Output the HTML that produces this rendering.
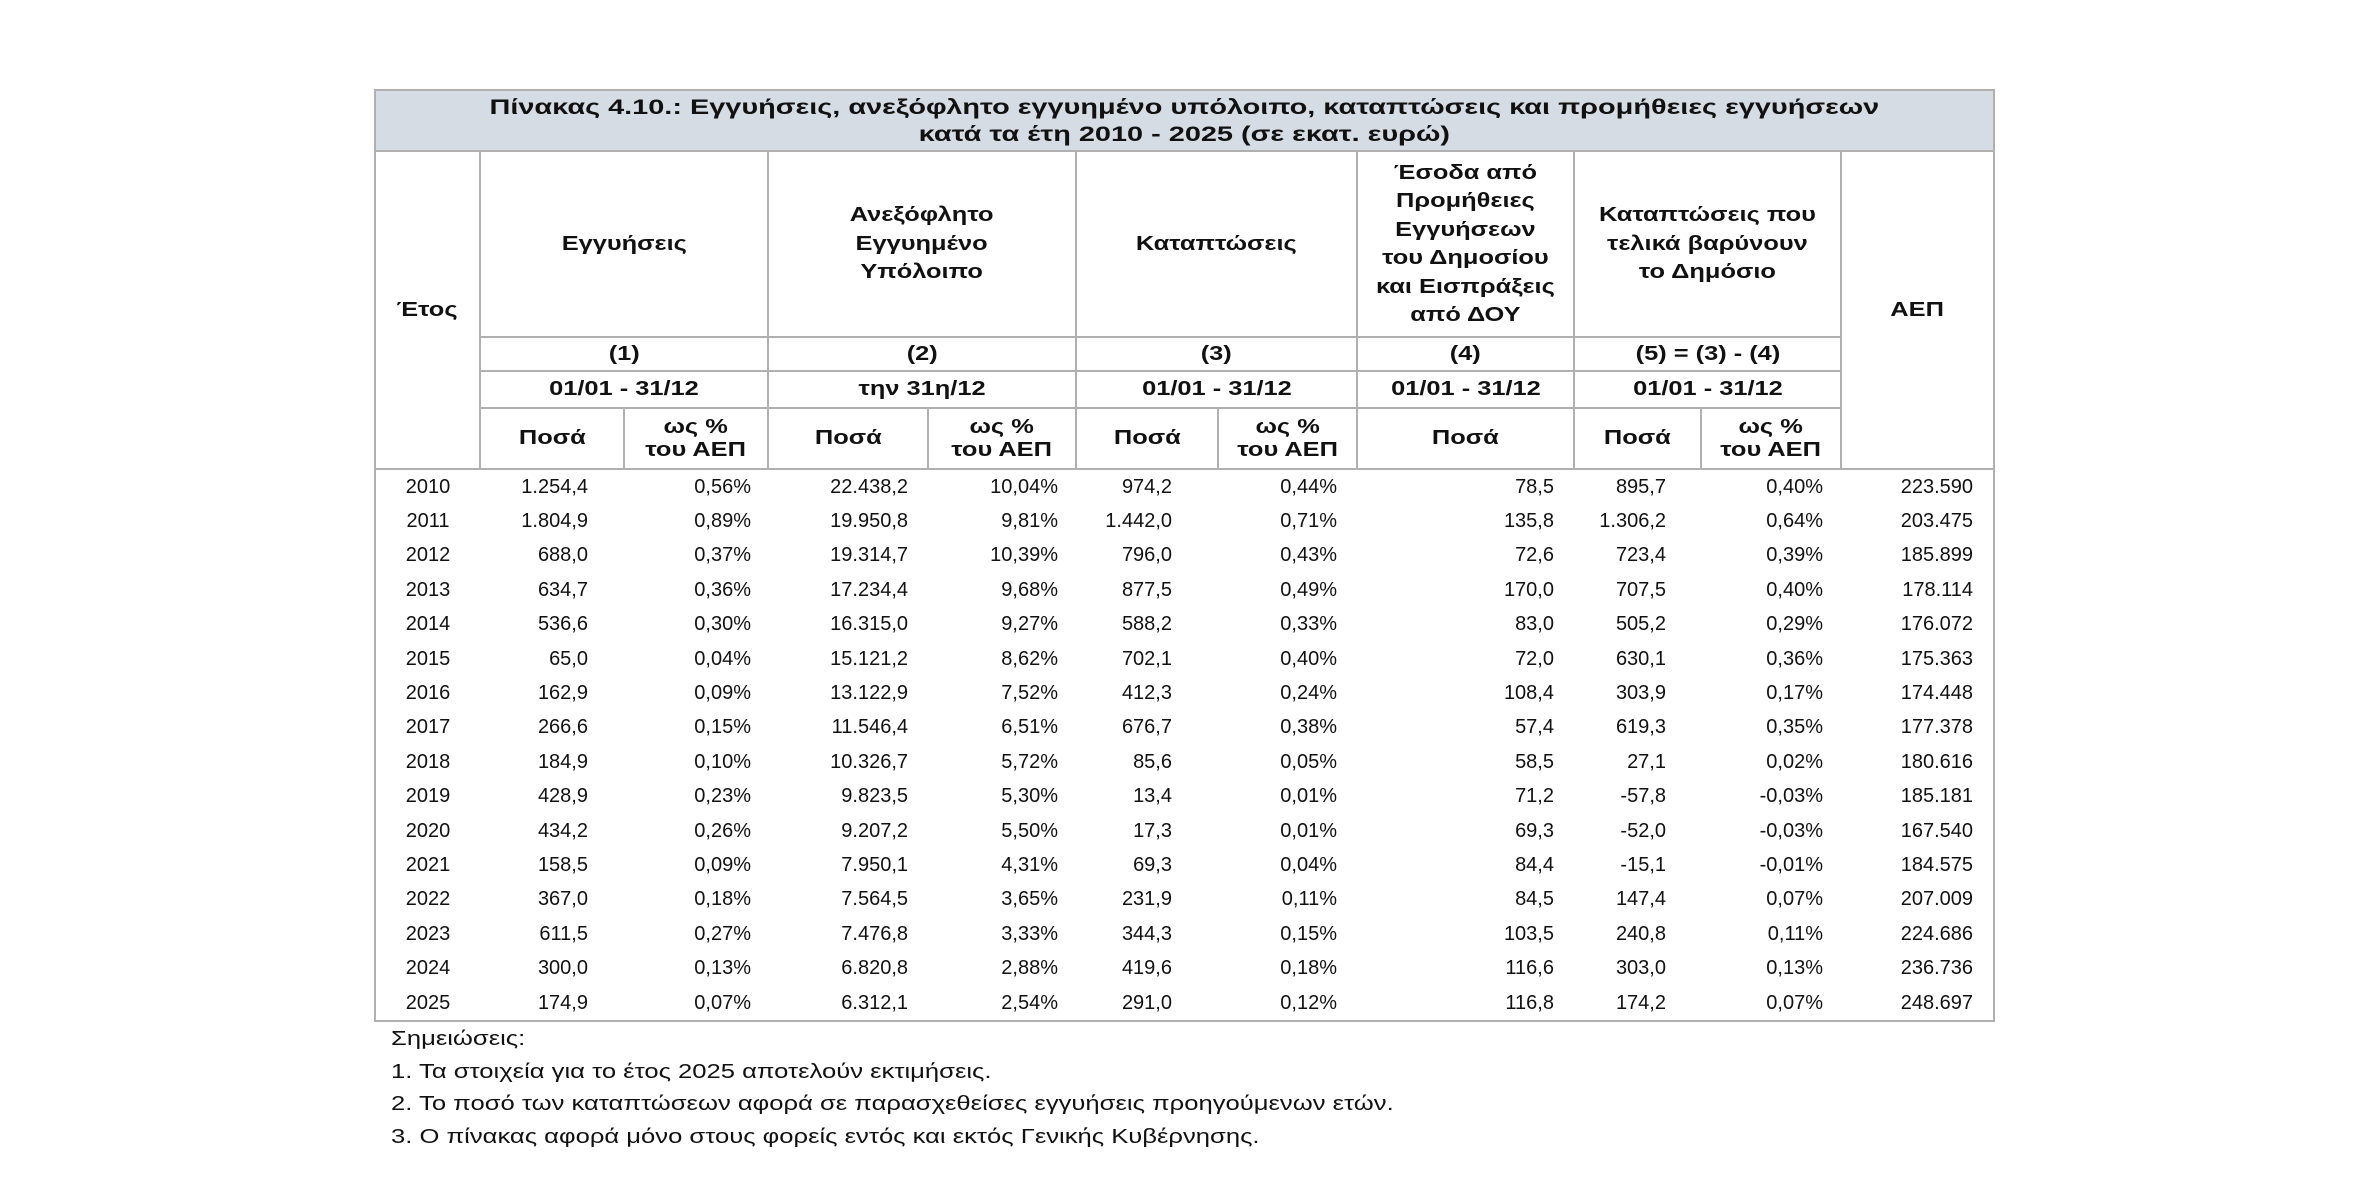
<!DOCTYPE html>
<html><head><meta charset="utf-8"><style>
html,body{margin:0;padding:0;background:#fff;}
body{width:2367px;height:1184px;position:relative;overflow:hidden;font-family:"Liberation Sans","DejaVu Sans",sans-serif;color:#111;}
table{position:absolute;left:374px;top:89px;border-collapse:collapse;table-layout:fixed;width:1619px;}
td{padding:0;font-size:20px;white-space:nowrap;overflow:hidden;}
.t td{border:2px solid #b0b0b0;}
.title{background:#d6dce4;text-align:center;font-weight:bold;font-size:21px;line-height:27px;height:59px;}
.title span{display:inline-block;transform:scaleX(1.375);}
.h{font-weight:bold;text-align:center;font-size:20px;line-height:28.5px;white-space:normal;}
.h span{display:inline-block;transform:scaleX(1.27);}
tr.d td{height:34.4px;border:none;text-align:right;}
tr.d td:first-child{text-align:center;border-left:2px solid #b0b0b0;}
tr.d td:last-child{border-right:2px solid #b0b0b0;}
tr.last td{border-bottom:2px solid #b0b0b0 !important;}
.c2{padding-right:36px!important}.c3{padding-right:17px!important}.c4{padding-right:20px!important}.c5{padding-right:18px!important}.c6{padding-right:46px!important}.c7{padding-right:20px!important}.c8{padding-right:20px!important}.c9{padding-right:35px!important}.c10{padding-right:18px!important}.c11{padding-right:20px!important}
.notes{position:absolute;left:391px;font-size:20px;transform:scaleX(1.28);transform-origin:0 0;white-space:nowrap;}
</style></head><body>
<table class="t">
<colgroup><col style="width:105px"><col style="width:144px"><col style="width:144px"><col style="width:160px"><col style="width:148px"><col style="width:142px"><col style="width:139px"><col style="width:217px"><col style="width:127px"><col style="width:140px"><col style="width:153px"></colgroup>
<tr><td colspan="11" class="title"><span>Πίνακας 4.10.: Εγγυήσεις, ανεξόφλητο εγγυημένο υπόλοιπο, καταπτώσεις και προμήθειες εγγυήσεων<br>κατά τα έτη 2010 - 2025 (σε εκατ. ευρώ)</span></td></tr>
<tr style="height:186px"><td rowspan="4" class="h"><span>Έτος</span></td><td colspan="2" class="h"><span>Εγγυήσεις</span></td><td colspan="2" class="h"><span>Ανεξόφλητο<br>Εγγυημένο<br>Υπόλοιπο</span></td><td colspan="2" class="h"><span>Καταπτώσεις</span></td><td class="h"><span>Έσοδα από<br>Προμήθειες<br>Εγγυήσεων<br>του Δημοσίου<br>και Εισπράξεις<br>από ΔΟΥ</span></td><td colspan="2" class="h"><span>Καταπτώσεις που<br>τελικά βαρύνουν<br>το Δημόσιο</span></td><td rowspan="4" class="h"><span>ΑΕΠ</span></td></tr>
<tr style="height:34px"><td colspan="2" class="h"><span>(1)</span></td><td colspan="2" class="h"><span>(2)</span></td><td colspan="2" class="h"><span>(3)</span></td><td class="h"><span>(4)</span></td><td colspan="2" class="h"><span>(5) = (3) - (4)</span></td></tr>
<tr style="height:37px"><td colspan="2" class="h"><span>01/01 - 31/12</span></td><td colspan="2" class="h"><span>την 31η/12</span></td><td colspan="2" class="h"><span>01/01 - 31/12</span></td><td class="h"><span>01/01 - 31/12</span></td><td colspan="2" class="h"><span>01/01 - 31/12</span></td></tr>
<tr style="height:61px"><td class="h"><span>Ποσά</span></td><td class="h" style="line-height:23px"><span>ως %<br>του ΑΕΠ</span></td><td class="h"><span>Ποσά</span></td><td class="h" style="line-height:23px"><span>ως %<br>του ΑΕΠ</span></td><td class="h"><span>Ποσά</span></td><td class="h" style="line-height:23px"><span>ως %<br>του ΑΕΠ</span></td><td class="h"><span>Ποσά</span></td><td class="h"><span>Ποσά</span></td><td class="h" style="line-height:23px"><span>ως %<br>του ΑΕΠ</span></td></tr>
<tr class="d"><td>2010</td><td class="c2">1.254,4</td><td class="c3">0,56%</td><td class="c4">22.438,2</td><td class="c5">10,04%</td><td class="c6">974,2</td><td class="c7">0,44%</td><td class="c8">78,5</td><td class="c9">895,7</td><td class="c10">0,40%</td><td class="c11">223.590</td></tr>
<tr class="d"><td>2011</td><td class="c2">1.804,9</td><td class="c3">0,89%</td><td class="c4">19.950,8</td><td class="c5">9,81%</td><td class="c6">1.442,0</td><td class="c7">0,71%</td><td class="c8">135,8</td><td class="c9">1.306,2</td><td class="c10">0,64%</td><td class="c11">203.475</td></tr>
<tr class="d"><td>2012</td><td class="c2">688,0</td><td class="c3">0,37%</td><td class="c4">19.314,7</td><td class="c5">10,39%</td><td class="c6">796,0</td><td class="c7">0,43%</td><td class="c8">72,6</td><td class="c9">723,4</td><td class="c10">0,39%</td><td class="c11">185.899</td></tr>
<tr class="d"><td>2013</td><td class="c2">634,7</td><td class="c3">0,36%</td><td class="c4">17.234,4</td><td class="c5">9,68%</td><td class="c6">877,5</td><td class="c7">0,49%</td><td class="c8">170,0</td><td class="c9">707,5</td><td class="c10">0,40%</td><td class="c11">178.114</td></tr>
<tr class="d"><td>2014</td><td class="c2">536,6</td><td class="c3">0,30%</td><td class="c4">16.315,0</td><td class="c5">9,27%</td><td class="c6">588,2</td><td class="c7">0,33%</td><td class="c8">83,0</td><td class="c9">505,2</td><td class="c10">0,29%</td><td class="c11">176.072</td></tr>
<tr class="d"><td>2015</td><td class="c2">65,0</td><td class="c3">0,04%</td><td class="c4">15.121,2</td><td class="c5">8,62%</td><td class="c6">702,1</td><td class="c7">0,40%</td><td class="c8">72,0</td><td class="c9">630,1</td><td class="c10">0,36%</td><td class="c11">175.363</td></tr>
<tr class="d"><td>2016</td><td class="c2">162,9</td><td class="c3">0,09%</td><td class="c4">13.122,9</td><td class="c5">7,52%</td><td class="c6">412,3</td><td class="c7">0,24%</td><td class="c8">108,4</td><td class="c9">303,9</td><td class="c10">0,17%</td><td class="c11">174.448</td></tr>
<tr class="d"><td>2017</td><td class="c2">266,6</td><td class="c3">0,15%</td><td class="c4">11.546,4</td><td class="c5">6,51%</td><td class="c6">676,7</td><td class="c7">0,38%</td><td class="c8">57,4</td><td class="c9">619,3</td><td class="c10">0,35%</td><td class="c11">177.378</td></tr>
<tr class="d"><td>2018</td><td class="c2">184,9</td><td class="c3">0,10%</td><td class="c4">10.326,7</td><td class="c5">5,72%</td><td class="c6">85,6</td><td class="c7">0,05%</td><td class="c8">58,5</td><td class="c9">27,1</td><td class="c10">0,02%</td><td class="c11">180.616</td></tr>
<tr class="d"><td>2019</td><td class="c2">428,9</td><td class="c3">0,23%</td><td class="c4">9.823,5</td><td class="c5">5,30%</td><td class="c6">13,4</td><td class="c7">0,01%</td><td class="c8">71,2</td><td class="c9">-57,8</td><td class="c10">-0,03%</td><td class="c11">185.181</td></tr>
<tr class="d"><td>2020</td><td class="c2">434,2</td><td class="c3">0,26%</td><td class="c4">9.207,2</td><td class="c5">5,50%</td><td class="c6">17,3</td><td class="c7">0,01%</td><td class="c8">69,3</td><td class="c9">-52,0</td><td class="c10">-0,03%</td><td class="c11">167.540</td></tr>
<tr class="d"><td>2021</td><td class="c2">158,5</td><td class="c3">0,09%</td><td class="c4">7.950,1</td><td class="c5">4,31%</td><td class="c6">69,3</td><td class="c7">0,04%</td><td class="c8">84,4</td><td class="c9">-15,1</td><td class="c10">-0,01%</td><td class="c11">184.575</td></tr>
<tr class="d"><td>2022</td><td class="c2">367,0</td><td class="c3">0,18%</td><td class="c4">7.564,5</td><td class="c5">3,65%</td><td class="c6">231,9</td><td class="c7">0,11%</td><td class="c8">84,5</td><td class="c9">147,4</td><td class="c10">0,07%</td><td class="c11">207.009</td></tr>
<tr class="d"><td>2023</td><td class="c2">611,5</td><td class="c3">0,27%</td><td class="c4">7.476,8</td><td class="c5">3,33%</td><td class="c6">344,3</td><td class="c7">0,15%</td><td class="c8">103,5</td><td class="c9">240,8</td><td class="c10">0,11%</td><td class="c11">224.686</td></tr>
<tr class="d"><td>2024</td><td class="c2">300,0</td><td class="c3">0,13%</td><td class="c4">6.820,8</td><td class="c5">2,88%</td><td class="c6">419,6</td><td class="c7">0,18%</td><td class="c8">116,6</td><td class="c9">303,0</td><td class="c10">0,13%</td><td class="c11">236.736</td></tr>
<tr class="d last"><td>2025</td><td class="c2">174,9</td><td class="c3">0,07%</td><td class="c4">6.312,1</td><td class="c5">2,54%</td><td class="c6">291,0</td><td class="c7">0,12%</td><td class="c8">116,8</td><td class="c9">174,2</td><td class="c10">0,07%</td><td class="c11">248.697</td></tr>
</table>
<div class="notes" style="top:1028px">Σημειώσεις:</div>
<div class="notes" style="top:1061px">1. Τα στοιχεία για το έτος 2025 αποτελούν εκτιμήσεις.</div>
<div class="notes" style="top:1093px">2. Το ποσό των καταπτώσεων αφορά σε παρασχεθείσες εγγυήσεις προηγούμενων ετών.</div>
<div class="notes" style="top:1126px">3. Ο πίνακας αφορά μόνο στους φορείς εντός και εκτός Γενικής Κυβέρνησης.</div>
</body></html>
